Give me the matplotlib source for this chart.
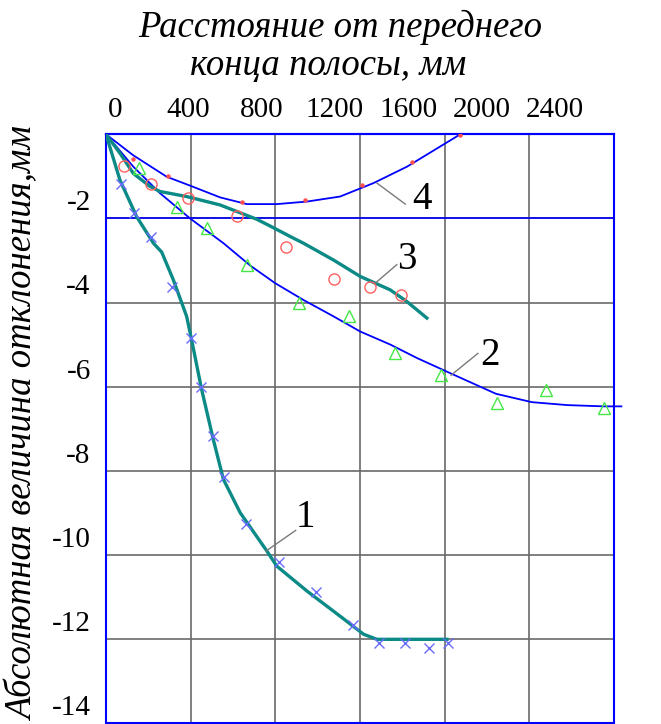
import matplotlib
matplotlib.use("Agg")
import matplotlib.pyplot as plt
from matplotlib.transforms import ScaledTranslation

# ---------------- data ----------------
x_ticks = [0, 400, 800, 1200, 1600, 2000, 2400]
x_tick_labels = ["0", "400", "800", "1200", "1600", "2000", "2400"]
y_ticks = [0, -2, -4, -6, -8, -10, -12, -14]
y_tick_labels = ["", "-2", "-4", "-6", "-8", "-10", "-12", "-14"]

title_line1 = "Расстояние от переднего"
title_line2 = "конца полосы, мм"
y_title = "Абсолютная величина отклонения,мм"

# curve 1 (teal line + blue x markers)
c1_x = [0, 66, 145, 224, 263, 318, 381, 405, 451, 507, 555, 634, 760, 807, 949, 1106, 1217, 1280, 1500, 1611]
c1_y = [0, -1.09, -1.96, -2.59, -2.80, -3.46, -4.33, -4.90, -6.05, -7.26, -8.21, -9.00, -9.91, -10.27,
        -10.86, -11.46, -11.89, -12.01, -12.01, -12.01]
c1_mx = [69, 134, 211, 313, 402, 451, 504, 558, 660, 819, 991, 1169, 1291, 1414, 1527, 1614]
c1_my = [-1.18, -1.88, -2.45, -3.64, -4.84, -6.00, -7.17, -8.16, -9.27, -10.18, -10.89, -11.68,
         -12.09, -12.09, -12.21, -12.09]

# curve 2 (blue line + green triangles)
c2_x = [0, 129, 255, 397, 555, 681, 799, 933, 1075, 1201, 1343, 1469, 1626, 1842, 2012, 2180, 2351, 2435]
c2_y = [0, -0.77, -1.40, -2.00, -2.59, -3.12, -3.54, -3.94, -4.33, -4.69, -5.00, -5.32, -5.68,
        -6.17, -6.37, -6.44, -6.47, -6.47]
c2_mx = [158, 334, 479, 668, 914, 1150, 1363, 1583, 1845, 2080, 2351]
c2_my = [-0.81, -1.72, -2.23, -3.10, -4.01, -4.32, -5.19, -5.72, -6.38, -6.09, -6.51]

# curve 3 (teal line + red circles)
c3_x = [0, 66, 129, 208, 255, 381, 539, 712, 775, 870, 933, 1075, 1201, 1343, 1422, 1516]
c3_y = [0, -0.45, -0.93, -1.24, -1.36, -1.48, -1.68, -2.02, -2.18, -2.43, -2.59, -2.99, -3.38,
        -3.70, -3.98, -4.37]
c3_mx = [87, 211, 386, 618, 851, 1075, 1245, 1393]
c3_my = [-0.75, -1.19, -1.51, -1.94, -2.67, -3.44, -3.62, -3.83]

# curve 4 (blue line + small red marks)
c4_x = [0, 129, 287, 397, 539, 665, 807, 949, 1106, 1264, 1422, 1579, 1690]
c4_y = [0, -0.50, -1.01, -1.22, -1.50, -1.66, -1.66, -1.60, -1.48, -1.16, -0.77, -0.29, 0.05]
c4_mx = [129, 295, 641, 941, 1209, 1445, 1674]
c4_my = [-0.59, -0.99, -1.62, -1.56, -1.20, -0.67, -0.02]

ref_line_y = -2

# curve labels: (text, leader start, leader end, label position)
labels = [
    ("1", (756, -9.91), (896, -9.42), (941, -9.12)),
    ("2", (1630, -5.73), (1757, -5.21), (1816, -5.26)),
    ("3", (1272, -3.54), (1374, -3.10), (1420, -2.97)),
    ("4", (1280, -1.16), (1414, -1.66), (1493, -1.56)),
]

# ---------------- figure ----------------
W, H = 661, 724
fig = plt.figure(figsize=(W / 100, H / 100), dpi=100)
left_px, right_px, top_px, bot_px = 106, 614, 134.3, 723.0
ax = fig.add_axes([left_px / W, 1 - bot_px / H, (right_px - left_px) / W, (bot_px - top_px) / H])

serif = "Liberation Serif"
teal = "#0b8a86"
blue = "#0000ff"

ax.set_xlim(0, 2400)
ax.set_ylim(-14, 0)

ax.set_xticks(x_ticks)
ax.set_yticks(y_ticks)
ax.grid(True, color="#6a6a6a", linewidth=1.2)
ax.set_axisbelow(True)
ax.tick_params(axis="x", length=0, labelbottom=False, labeltop=False)
ax.tick_params(axis="y", length=0, pad=11)
ax.set_yticklabels(y_tick_labels, fontfamily=serif, fontsize=21)
off = ScaledTranslation(0, 0.18, fig.dpi_scale_trans)
for lab in ax.get_yticklabels():
    lab.set_transform(lab.get_transform() + off)

for sp in ax.spines.values():
    sp.set_color(blue)
    sp.set_linewidth(1.5)

ax.axhline(ref_line_y, color=blue, linewidth=1.2, zorder=1.5)

# secondary top axis holding the tick labels (labels are set a bit tighter than the grid)
def fwd(x):
    return 1.1547 * x - 49.1

def inv(v):
    return (v + 49.1) / 1.1547

sec = ax.secondary_xaxis("top", functions=(fwd, inv))
sec.set_xticks(x_ticks)
sec.set_xticklabels(x_tick_labels, fontfamily=serif, fontsize=21)
sec.tick_params(length=0, pad=8)
sec.spines["top"].set_color(blue)
sec.spines["top"].set_linewidth(1.5)

# curves
ax.plot(c4_x, c4_y, color=blue, linewidth=1.3, zorder=3)
ax.plot(c4_mx, c4_my, linestyle="none", marker="o", markersize=2.2, color="#ff5050", zorder=4)

ax.plot(c2_x, c2_y, color=blue, linewidth=1.3, zorder=3, clip_on=False)
ax.plot(c2_mx, c2_my, linestyle="none", marker="^", markersize=8, markerfacecolor="none",
        markeredgecolor="#44e844", markeredgewidth=1.0, zorder=4, clip_on=False)

ax.plot(c3_x, c3_y, color=teal, linewidth=2.4, zorder=3)
ax.plot(c3_mx, c3_my, linestyle="none", marker="o", markersize=8, markerfacecolor="none",
        markeredgecolor="#ff6060", markeredgewidth=1.0, zorder=4)

ax.plot(c1_x, c1_y, color=teal, linewidth=2.4, zorder=3)
ax.plot(c1_mx, c1_my, linestyle="none", marker="x", markersize=7, color="#6b6bff",
        markeredgewidth=1.0, zorder=4)

for txt, p0, p1, pl in labels:
    ax.plot([p0[0], p1[0]], [p0[1], p1[1]], color="#7a7a7a", linewidth=1.0, zorder=5)
    ax.text(pl[0], pl[1], txt, fontfamily=serif, fontsize=28, ha="center", va="center", zorder=6)

# titles
fig.text(340 / W, 1 - 37 / H, title_line1, fontfamily=serif, fontstyle="italic", fontsize=26.5,
         ha="center", va="baseline")
fig.text(328.5 / W, 1 - 75 / H, title_line2, fontfamily=serif, fontstyle="italic", fontsize=26.5,
         ha="center", va="baseline")
fig.text(24 / W, 1 - 424 / H, y_title, fontfamily=serif, fontstyle="italic", fontsize=26.5,
         rotation=90, ha="center", va="center")

fig.savefig("out.png", dpi=100)
